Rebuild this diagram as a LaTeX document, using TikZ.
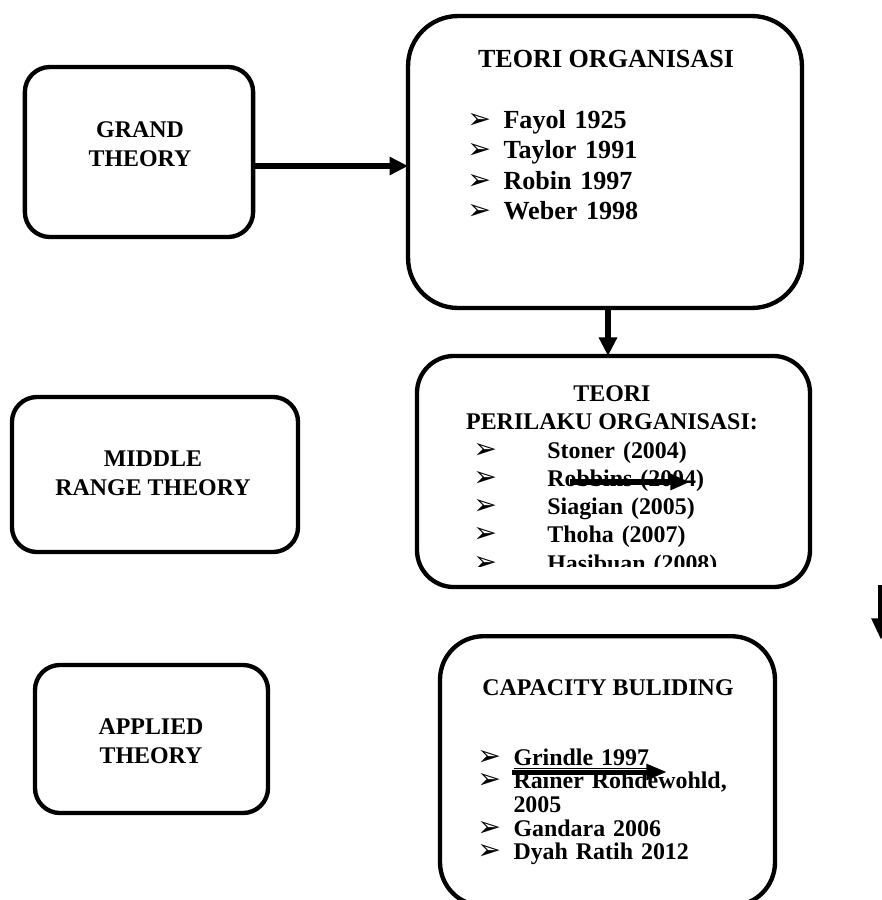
\documentclass[tikz,border=0pt]{standalone}
\usepackage{fontspec}
\setmainfont{Liberation Serif}
\newfontfamily\arrowfont{DejaVu Sans}
\usetikzlibrary{arrows.meta}
\newcommand{\bulletmark}[1]{\makebox[#1][l]{\arrowfont\fontsize{13}{13}\selectfont ➢}}
\tikzset{
    theory/diagram/.style={
        x=0.46pt, y=-0.46pt,
        font=\bfseries,
        line join=round
    },
    theory/box/.style={draw, line width=2pt, rounded corners=#1,
        inner sep=0pt, outer sep=0pt},
    theory/caption/.style={align=center, inner sep=0pt,
        font=\fontsize{11}{13.4}\selectfont\bfseries},
    theory/title/.style={inner sep=0pt, anchor=base},
    theory/list/.style={text width=220pt, align=left, inner sep=0pt,
        anchor=base west},
    theory/arrow/.style={line width=3pt,
        -{Triangle[length=8.5pt, width=8pt]}},
    theory/stray/.style={line width=2.5pt,
        -{Triangle[length=9pt, width=7pt]}}
}
\begin{document}
\begin{tikzpicture}[theory/diagram]
    \useasboundingbox (0,0) rectangle (882,900);
    % boxes
    \node[theory/box=11.5pt, minimum width=105pt, minimum height=78.2pt] (grand) at (139,152) {};
    \node[theory/box=23pt, minimum width=181.2pt, minimum height=134.3pt] (organisasi) at (605,162) {};
    \node[theory/box=17pt, minimum width=180.8pt, minimum height=106.3pt] (perilaku) at (613.5,471.5) {};
    \node[theory/box=11.5pt, minimum width=131.6pt, minimum height=71.3pt] (middle) at (155,474.5) {};
    \node[theory/box=11.5pt, minimum width=107.2pt, minimum height=68.1pt] (applied) at (151.5,739) {};
    \node[theory/box=20pt, minimum width=154.1pt, minimum height=124pt] (capacity) at (607.5,771) {};

    % left column captions
    \node[theory/caption, anchor=south] (grandtext) at (140,167) {GRAND\\THEORY};
    \node[theory/caption, anchor=south] (middletext) at (153,496) {MIDDLE\\RANGE THEORY};
    \node[theory/caption, anchor=south] (appliedtext) at (151,764) {APPLIED\\THEORY};

    % teori organisasi
    \node[theory/title, font=\fontsize{12}{14}\selectfont\bfseries] (orgtitle) at (606,67) {TEORI ORGANISASI};
    \node[theory/list, font=\fontsize{12}{14.1}\selectfont\bfseries] (orglist) at (467,128)
        {\bulletmark{16.6pt}Fayol 1925\\
         \bulletmark{16.6pt}Taylor 1991\\
         \bulletmark{16.6pt}Robin 1997\\
         \bulletmark{16.6pt}Weber 1998};

    % teori perilaku organisasi
    \node[theory/caption, anchor=south, font=\fontsize{11}{12.9}\selectfont\bfseries] (periltitle) at (612,430)
        {TEORI\\PERILAKU ORGANISASI:};
    \begin{scope}
        \clip (420,360) rectangle (805,566);
        \node[theory/list, font=\fontsize{11}{13}\selectfont\bfseries] (perillist) at (473,458)
            {\bulletmark{34pt}Stoner (2004)\\
             \bulletmark{34pt}Robbins (2004)\\
             \bulletmark{34pt}Siagian (2005)\\
             \bulletmark{34pt}Thoha (2007)\\
             \bulletmark{34pt}Hasibuan (2008)};
    \end{scope}

    % capacity building
    \node[theory/title, font=\fontsize{11}{13}\selectfont\bfseries] (captitle) at (608,695) {CAPACITY BULIDING};
    \node[theory/list, font=\fontsize{11}{10.9}\selectfont\bfseries] (caplist) at (477,765)
        {\bulletmark{16.6pt}\underline{Grindle 1997}\\
         \bulletmark{16.6pt}Rainer Rohdewohld,\\
         \makebox[16.6pt]{}2005\\
         \bulletmark{16.6pt}Gandara 2006\\
         \bulletmark{16.6pt}Dyah Ratih 2012};

    % connectors
    \coordinate (grandrow) at (0,166);
    \coordinate (orgcol) at (608,0);
    \draw[theory/arrow] (grand.east |- grandrow) -- (organisasi.west |- grandrow);
    \draw[theory/arrow] (organisasi.south -| orgcol) -- (perilaku.north -| orgcol);

    % loose arrows
    \coordinate (robbinsfrom) at (570,482);
    \coordinate (robbinsto) at (690,482);
    \coordinate (grindlefrom) at (512,772);
    \coordinate (grindleto) at (667,772);
    \coordinate (edgefrom) at (881,585);
    \coordinate (edgeto) at (881,640);
    \draw[theory/stray] (robbinsfrom) -- (robbinsto);
    \draw[theory/stray, line width=2.3pt, -{Triangle[length=9.5pt, width=7pt]}] (grindlefrom) -- (grindleto);
    \draw[theory/arrow, line width=2.8pt, -{Triangle[length=10pt, width=8.3pt]}] (edgefrom) -- (edgeto);
\end{tikzpicture}
\end{document}
